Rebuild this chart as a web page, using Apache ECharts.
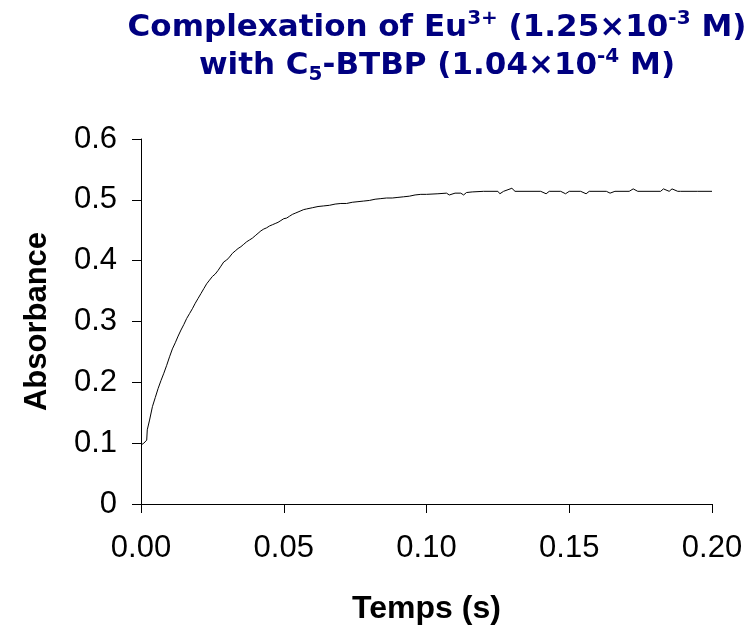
<!DOCTYPE html>
<html>
<head>
<meta charset="utf-8">
<script src="https://cdn.jsdelivr.net/npm/echarts@6/dist/echarts.min.js"></script>
<style>html,body{margin:0;padding:0;background:#fff}#c{width:756px;height:630px}</style>
</head>
<body>
<div id="c"></div>
<script>
// Time (s)
const times = [
  0.000, 0.001, 0.002, 0.0022, 0.003, 0.004, 0.005, 0.006, 0.007, 0.008, 0.009,
  0.010, 0.011, 0.012, 0.013, 0.014, 0.015, 0.016, 0.017, 0.018, 0.019,
  0.020, 0.021, 0.022, 0.023, 0.024, 0.025, 0.026, 0.027, 0.028, 0.029,
  0.030, 0.031, 0.032, 0.033, 0.034, 0.035, 0.036, 0.037, 0.038, 0.039,
  0.040, 0.041, 0.042, 0.043, 0.044, 0.045, 0.046, 0.047, 0.048, 0.049,
  0.050, 0.051, 0.052, 0.053, 0.054, 0.055, 0.056, 0.057, 0.058, 0.060,
  0.062, 0.064, 0.066, 0.068, 0.070, 0.072, 0.074, 0.076, 0.078, 0.080,
  0.082, 0.084, 0.086, 0.088, 0.090, 0.092, 0.094, 0.096, 0.098, 0.100,
  0.104, 0.107, 0.108, 0.110, 0.112, 0.113, 0.114, 0.116, 0.120, 0.125,
  0.1257, 0.127, 0.1299, 0.131, 0.140, 0.1419, 0.143, 0.147, 0.1487, 0.150,
  0.154, 0.1559, 0.157, 0.163, 0.1643, 0.166, 0.171, 0.1724, 0.174, 0.182,
  0.183, 0.185, 0.186, 0.188, 0.189, 0.195, 0.200
];
// Absorbance
const absorbance = [
  0.097, 0.100, 0.105, 0.122, 0.138, 0.160, 0.175, 0.190, 0.203, 0.215, 0.228,
  0.242, 0.255, 0.265, 0.276, 0.286, 0.295, 0.305, 0.313, 0.321, 0.330,
  0.338, 0.346, 0.354, 0.362, 0.368, 0.374, 0.378, 0.384, 0.391, 0.398,
  0.401, 0.406, 0.412, 0.416, 0.420, 0.423, 0.427, 0.431, 0.434, 0.437,
  0.441, 0.445, 0.449, 0.452, 0.454, 0.457, 0.459, 0.461, 0.463, 0.466,
  0.469, 0.470, 0.473, 0.476, 0.478, 0.480, 0.482, 0.484, 0.485, 0.487,
  0.489, 0.490, 0.491, 0.493, 0.494, 0.494, 0.496, 0.497, 0.498, 0.499,
  0.501, 0.502, 0.503, 0.503, 0.504, 0.505, 0.506, 0.508, 0.509, 0.509,
  0.510, 0.511, 0.508, 0.511, 0.511, 0.508, 0.512, 0.513, 0.514, 0.514,
  0.510, 0.514, 0.519, 0.514, 0.514, 0.510, 0.514, 0.514, 0.510, 0.514,
  0.514, 0.510, 0.514, 0.514, 0.511, 0.514, 0.514, 0.518, 0.514, 0.514,
  0.518, 0.514, 0.518, 0.514, 0.514, 0.514, 0.514
];
const xTicks = ['0.00', '0.05', '0.10', '0.15', '0.20'];
const yTicks = ['0', '0.1', '0.2', '0.3', '0.4', '0.5', '0.6'];

const chart = echarts.init(document.getElementById('c'), null, {renderer: 'canvas'});
const data = times.map((t, i) => [t, absorbance[i]]);
const titleFont = 'DejaVu Sans';
chart.setOption({
  animation: false,
  backgroundColor: '#fff',
  title: {
    left: 432, top: 4, textAlign: 'center',
    text: '{a|Complexation of Eu}{sup|3+}{a| (1.25×10}{sup|-3}{a| M)}\n{a|with C}{sub|5}{a|-BTBP (1.04×10}{sup|-4}{a| M)}',
    textStyle: {
      rich: {
        a: {fontFamily: titleFont, fontWeight: 'bold', fontSize: 31, color: '#000080', lineHeight: 38},
        sup: {fontFamily: titleFont, fontWeight: 'bold', fontSize: 20, color: '#000080', lineHeight: 26, verticalAlign: 'top'},
        sub: {fontFamily: titleFont, fontWeight: 'bold', fontSize: 20, color: '#000080', lineHeight: 20, verticalAlign: 'bottom'}
      }
    }
  },
  grid: {left: 141, right: 44, top: 139, bottom: 126, containLabel: false, outerBoundsMode: 'none'},
  xAxis: {
    type: 'value', min: 0, max: 0.2, interval: 0.05,
    name: 'Temps (s)', nameLocation: 'middle', nameGap: 89,
    nameTextStyle: {fontFamily: 'Liberation Sans', fontWeight: 'bold', fontSize: 32, color: '#000'},
    axisLine: {lineStyle: {color: '#000', width: 1}},
    axisTick: {show: true, inside: false, length: 9, lineStyle: {color: '#000'}},
    axisLabel: {margin: 29, fontFamily: 'Liberation Sans', fontSize: 31, color: '#000',
      formatter: v => xTicks[Math.round(v / 0.05)] ?? ''},
    splitLine: {show: false}
  },
  yAxis: {
    type: 'value', min: 0, max: 0.6, interval: 0.1,
    name: 'Absorbance', nameLocation: 'middle', nameGap: 88,
    nameTextStyle: {fontFamily: 'Liberation Sans', fontWeight: 'bold', fontSize: 31, color: '#000'},
    axisLine: {show: true, lineStyle: {color: '#000', width: 1}},
    axisTick: {show: true, inside: false, length: 9, lineStyle: {color: '#000'}},
    axisLabel: {margin: 24, fontFamily: 'Liberation Sans', fontSize: 31, color: '#000',
      formatter: v => yTicks[Math.round(v / 0.1)] ?? ''},
    splitLine: {show: false}
  },
  series: [{
    type: 'line', data: data, showSymbol: false, symbol: 'none',
    lineStyle: {color: '#000', width: 1}
  }]
});
</script>
</body>
</html>
